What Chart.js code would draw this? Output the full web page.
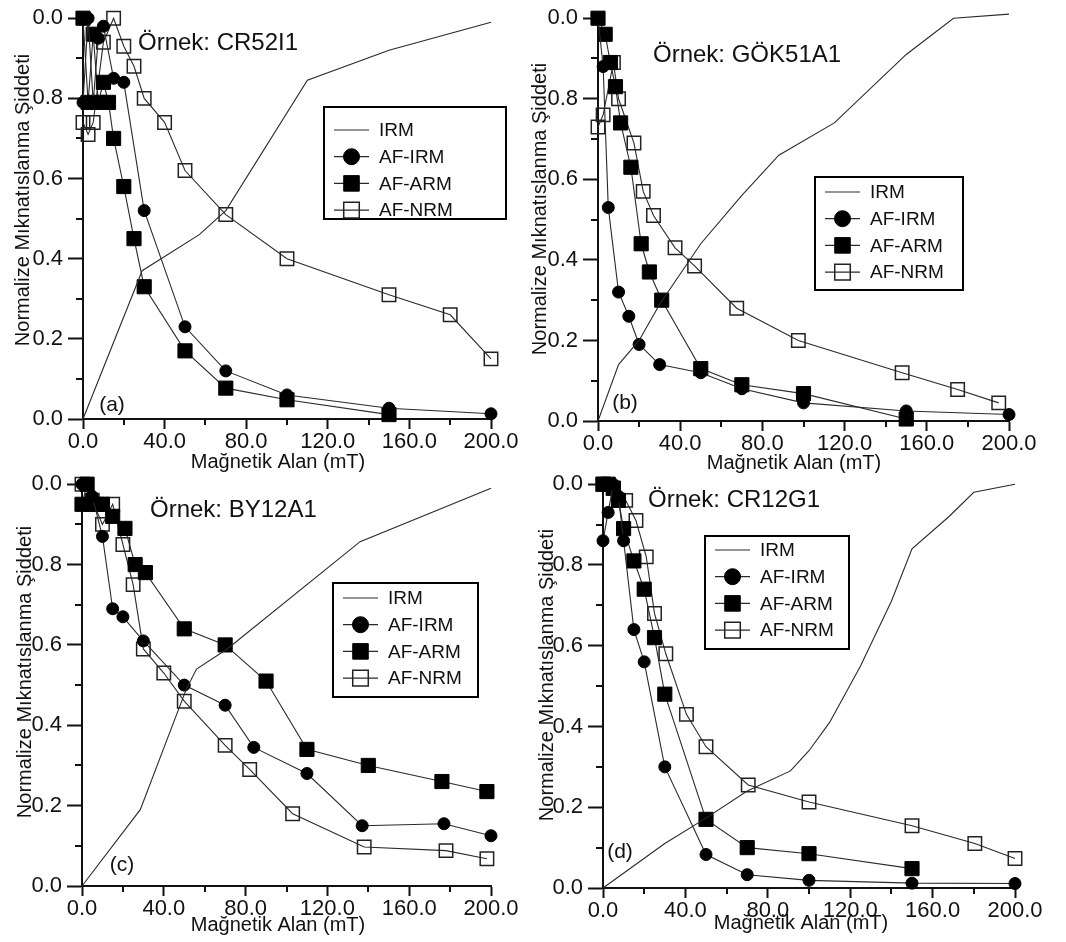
<!DOCTYPE html>
<html>
<head>
<meta charset="utf-8">
<script src="https://cdn.jsdelivr.net/npm/chart.js@4.4.1/dist/chart.umd.min.js"></script>
<style>
  html, body { margin: 0; padding: 0; background: #fff; }
  #page { position: relative; width: 1066px; height: 942px; overflow: hidden; }
  #page canvas { position: absolute; }
</style>
</head>
<body>
<div id="page">
  <canvas id="chartA" width="530" height="474" style="left:0px;top:0px"></canvas>
  <canvas id="chartB" width="536" height="474" style="left:530px;top:0px"></canvas>
  <canvas id="chartC" width="530" height="476" style="left:0px;top:466px"></canvas>
  <canvas id="chartD" width="536" height="476" style="left:530px;top:466px"></canvas>
</div>
<script>
// tick labels as printed on the figure
const xTickLabels = ['0.0', '', '40.0', '', '80.0', '', '120.0', '', '160.0', '', '200.0'];
const yTickLabels = ['0.0', '', '0.2', '', '0.4', '', '0.6', '', '0.8', '', '0.0'];
const seriesNames = ['IRM', 'AF-IRM', 'AF-ARM', 'AF-NRM'];

// (a) CR52I1
const fieldA_IRM = [0, 29, 57, 70, 110, 150, 200];
const valueA_IRM = [0, 0.37, 0.46, 0.52, 0.845, 0.92, 0.99];
const fieldA_AFIRM = [0, 2.5, 5, 7.5, 10, 15, 20, 30, 50, 70, 100, 150, 200];
const valueA_AFIRM = [0.79, 1.0, 0.79, 0.95, 0.98, 0.85, 0.84, 0.52, 0.23, 0.12, 0.06, 0.027, 0.013];
const fieldA_AFARM = [0, 2.5, 5, 7.5, 10, 12.5, 15, 20, 25, 30, 50, 70, 100, 150];
const valueA_AFARM = [1.0, 0.79, 0.96, 0.79, 0.84, 0.79, 0.70, 0.58, 0.45, 0.33, 0.17, 0.077, 0.048, 0.011];
const fieldA_AFNRM = [0, 2.5, 5, 10, 15, 20, 25, 30, 40, 50, 70, 100, 150, 180, 200];
const valueA_AFNRM = [0.74, 0.71, 0.74, 0.94, 1.0, 0.93, 0.88, 0.80, 0.74, 0.62, 0.51, 0.40, 0.31, 0.26, 0.15];

// (b) GÖK51A1
const fieldB_IRM = [0, 10, 20, 30, 50, 70, 88, 115, 150, 173, 200];
const valueB_IRM = [0, 0.14, 0.20, 0.29, 0.44, 0.56, 0.66, 0.74, 0.91, 1.0, 1.01];
const fieldB_AFIRM = [0, 2.5, 5, 10, 15, 20, 30, 50, 70, 100, 150, 200];
const valueB_AFIRM = [1.0, 0.88, 0.53, 0.32, 0.26, 0.19, 0.14, 0.12, 0.08, 0.045, 0.025, 0.016];
const fieldB_AFARM = [0, 3.5, 6, 8.5, 11, 16, 21, 25, 31, 50, 70, 100, 150];
const valueB_AFARM = [1.0, 0.96, 0.89, 0.83, 0.74, 0.63, 0.44, 0.37, 0.30, 0.13, 0.09, 0.068, 0.005];
const fieldB_AFNRM = [0, 2.5, 7.5, 10, 17.5, 22, 27, 37.5, 47, 67.5, 97.5, 148, 175, 195];
const valueB_AFNRM = [0.73, 0.76, 0.89, 0.80, 0.69, 0.57, 0.51, 0.43, 0.385, 0.28, 0.20, 0.12, 0.078, 0.045];

// (c) BY12A1
const fieldC_IRM = [0, 28.5, 51, 56, 71, 136, 200];
const valueC_IRM = [0, 0.19, 0.49, 0.54, 0.59, 0.857, 0.99];
const fieldC_AFIRM = [0, 2.5, 5, 10, 15, 20, 30, 50, 70, 84, 110, 137, 177, 200];
const valueC_AFIRM = [1.0, 1.0, 0.97, 0.87, 0.69, 0.67, 0.61, 0.50, 0.45, 0.345, 0.28, 0.15, 0.155, 0.125];
const fieldC_AFARM = [0, 2.5, 5, 7.5, 10, 15, 21, 26, 31, 50, 70, 90, 110, 140, 176, 198];
const valueC_AFARM = [0.95, 1.0, 0.95, 0.95, 0.95, 0.92, 0.89, 0.80, 0.78, 0.64, 0.60, 0.51, 0.34, 0.30, 0.26, 0.235];
const fieldC_AFNRM = [0, 5, 10, 15, 20, 25, 30, 40, 50, 70, 82, 103, 138, 178, 198];
const valueC_AFNRM = [1.0, 0.96, 0.90, 0.95, 0.85, 0.75, 0.59, 0.53, 0.46, 0.35, 0.29, 0.18, 0.097, 0.088, 0.068];

// (d) CR12G1
const fieldD_IRM = [0, 30, 49, 70, 91, 100, 110, 125, 140, 150, 168, 180, 200];
const valueD_IRM = [0, 0.11, 0.17, 0.24, 0.29, 0.34, 0.41, 0.55, 0.71, 0.84, 0.92, 0.98, 1.0];
const fieldD_AFIRM = [0, 2.5, 5, 7.5, 10, 15, 20, 30, 50, 70, 100, 150, 200];
const valueD_AFIRM = [0.86, 0.93, 1.0, 0.97, 0.86, 0.64, 0.56, 0.30, 0.083, 0.033, 0.019, 0.012, 0.011];
const fieldD_AFARM = [0, 2.5, 5, 7.5, 10, 15, 20, 25, 30, 50, 70, 100, 150];
const valueD_AFARM = [1.0, 1.0, 0.99, 0.96, 0.89, 0.81, 0.74, 0.62, 0.48, 0.17, 0.10, 0.085, 0.048];
const fieldD_AFNRM = [0, 5, 11, 16, 21, 25, 30.5, 40.5, 50, 70.5, 100, 150, 180.5, 200];
const valueD_AFNRM = [1.0, 0.99, 0.96, 0.91, 0.82, 0.68, 0.58, 0.43, 0.35, 0.255, 0.213, 0.154, 0.11, 0.073];

const FONT = '"Liberation Sans", Arial, sans-serif';
const INK = '#111';
const LINE = '#2a2a2a';

const panels = [
  { id: 'chartA', w: 530, h: 474, area: { l: 83, t: 16, r: 491, b: 419 },
    name: 'Örnek: CR52I1', nameX: 138, nameY: 43, letter: '(a)', letterX: 112, letterY: 405,
    yTitleX: 23, yTitleY: 200, xTitleX: 278, xTitleY: 462,
    legend: { x: 324, y: 107, w: 182, h: 112, row0: 130 },
    fields: [fieldA_IRM, fieldA_AFIRM, fieldA_AFARM, fieldA_AFNRM],
    values: [valueA_IRM, valueA_AFIRM, valueA_AFARM, valueA_AFNRM] },
  { id: 'chartB', w: 536, h: 474, area: { l: 68, t: 16, r: 479, b: 421 },
    name: 'Örnek: GÖK51A1', nameX: 123, nameY: 55, letter: '(b)', letterX: 95, letterY: 403,
    yTitleX: 10, yTitleY: 209, xTitleX: 264, xTitleY: 463,
    legend: { x: 285, y: 177, w: 148, h: 113, row0: 192 },
    fields: [fieldB_IRM, fieldB_AFIRM, fieldB_AFARM, fieldB_AFNRM],
    values: [valueB_IRM, valueB_AFIRM, valueB_AFARM, valueB_AFNRM] },
  { id: 'chartC', w: 530, h: 476, area: { l: 82, t: 16, r: 491, b: 420 },
    name: 'Örnek: BY12A1', nameX: 150, nameY: 44, letter: '(c)', letterX: 122, letterY: 399,
    yTitleX: 25, yTitleY: 206, xTitleX: 278, xTitleY: 459,
    legend: { x: 333, y: 117, w: 145, h: 114, row0: 132 },
    fields: [fieldC_IRM, fieldC_AFIRM, fieldC_AFARM, fieldC_AFNRM],
    values: [valueC_IRM, valueC_AFIRM, valueC_AFARM, valueC_AFNRM] },
  { id: 'chartD', w: 536, h: 476, area: { l: 73, t: 18, r: 485, b: 422 },
    name: 'Örnek: CR12G1', nameX: 118, nameY: 34, letter: '(d)', letterX: 90, letterY: 386,
    yTitleX: 17, yTitleY: 209, xTitleX: 271, xTitleY: 457,
    legend: { x: 175, y: 70, w: 144, h: 113, row0: 84 },
    fields: [fieldD_IRM, fieldD_AFIRM, fieldD_AFARM, fieldD_AFNRM],
    values: [valueD_IRM, valueD_AFIRM, valueD_AFARM, valueD_AFNRM] },
];

// marker look per series (IRM has none)
const markers = [
  { style: false, radius: 0, fill: 'transparent', border: LINE, bw: 0 },
  { style: 'circle', radius: 6, fill: '#000', border: '#000', bw: 1 },
  { style: 'rect', radius: 10, fill: '#000', border: '#000', bw: 1 },
  { style: 'rect', radius: 9.5, fill: 'rgba(0,0,0,0)', border: '#222', bw: 1.5 },
];

function toPoints(xs, ys) {
  let pts = [];
  for (let i = 0; i < xs.length; i++) {
    pts.push({ x: xs[i], y: ys[i] });
  }
  return pts;
}

function drawMarker(ctx, m, x, y, r) {
  if (!m.style) return;
  ctx.save();
  ctx.fillStyle = m.fill;
  ctx.strokeStyle = m.border;
  ctx.lineWidth = m.bw;
  ctx.beginPath();
  if (m.style === 'circle') {
    ctx.arc(x, y, r, 0, Math.PI * 2);
  } else {
    let s = Math.SQRT1_2 * r;
    ctx.rect(x - s, y - s, 2 * s, 2 * s);
  }
  ctx.fill();
  ctx.stroke();
  ctx.restore();
}

function makeDecor(p) {
  return {
    id: 'decor',
    afterDraw(chart) {
      const ctx = chart.ctx;
      const xs = chart.scales.x;
      const ys = chart.scales.y;
      const area = chart.chartArea;
      ctx.save();
      // minor ticks
      ctx.strokeStyle = INK;
      ctx.lineWidth = 2;
      ctx.beginPath();
      for (let i = 1; i < 10; i += 2) {
        let px = Math.round(xs.getPixelForValue(i * 20));
        ctx.moveTo(px, area.bottom);
        ctx.lineTo(px, area.bottom + 6);
        let py = Math.round(ys.getPixelForValue(i / 10));
        ctx.moveTo(area.left - 7, py);
        ctx.lineTo(area.left, py);
      }
      ctx.stroke();

      ctx.fillStyle = INK;
      // axis titles
      ctx.font = '20px ' + FONT;
      ctx.textAlign = 'center';
      ctx.textBaseline = 'middle';
      ctx.fillText('Mağnetik Alan (mT)', p.xTitleX, p.xTitleY);
      ctx.save();
      ctx.translate(p.yTitleX, p.yTitleY);
      ctx.rotate(-Math.PI / 2);
      ctx.font = '20px ' + FONT;
      ctx.fillText('Normalize Mıknatıslanma Şiddeti', 0, 0);
      ctx.restore();

      // sample name and panel letter
      ctx.textAlign = 'left';
      ctx.font = '24px ' + FONT;
      ctx.fillText(p.name, p.nameX, p.nameY);
      ctx.textAlign = 'center';
      ctx.font = '21px ' + FONT;
      ctx.fillText(p.letter, p.letterX, p.letterY);

      // legend box
      const lg = p.legend;
      ctx.strokeStyle = '#000';
      ctx.lineWidth = 2;
      ctx.strokeRect(lg.x, lg.y, lg.w, lg.h);
      ctx.font = '19px ' + FONT;
      ctx.textAlign = 'left';
      for (let i = 0; i < seriesNames.length; i++) {
        let ry = lg.row0 + i * 26.7;
        ctx.strokeStyle = LINE;
        ctx.lineWidth = 1.2;
        ctx.beginPath();
        ctx.moveTo(lg.x + 10, ry);
        ctx.lineTo(lg.x + 45, ry);
        ctx.stroke();
        let m = markers[i];
        drawMarker(ctx, m, lg.x + 27.5, ry, m.style === 'circle' ? 8 : 11);
        ctx.fillStyle = INK;
        ctx.fillText(seriesNames[i], lg.x + 55, ry + 1);
      }
      ctx.restore();
    },
  };
}

function buildChart(p) {
  let datasets = [];
  for (let i = 0; i < seriesNames.length; i++) {
    let m = markers[i];
    datasets.push({
      label: seriesNames[i],
      data: toPoints(p.fields[i], p.values[i]),
      borderColor: LINE,
      borderWidth: 1.1,
      tension: 0,
      fill: false,
      clip: false,
      pointStyle: m.style,
      pointRadius: m.radius,
      pointBackgroundColor: m.fill,
      pointBorderColor: m.border,
      pointBorderWidth: m.bw,
    });
  }
  let ctx = document.getElementById(p.id).getContext('2d');
  return new Chart(ctx, {
    type: 'line',
    data: { datasets: datasets },
    options: {
      responsive: false,
      animation: false,
      events: [],
      layout: { padding: { left: 0, top: p.area.t, right: p.w - p.area.r, bottom: 0 } },
      plugins: { legend: { display: false }, tooltip: { enabled: false } },
      scales: {
        x: {
          type: 'linear',
          min: 0,
          max: 200,
          ticks: {
            stepSize: 20,
            autoSkip: false,
            maxRotation: 0,
            padding: 0,
            color: INK,
            font: { family: FONT, size: 22 },
            callback: (v, i) => xTickLabels[i],
          },
          grid: {
            drawOnChartArea: false,
            tickLength: 10,
            tickWidth: 2,
            tickColor: (c) => (c.index % 2 === 0 ? INK : 'rgba(0,0,0,0)'),
          },
          border: { color: INK, width: 2 },
          afterFit: (s) => { s.height = p.h - p.area.b; },
        },
        y: {
          min: 0,
          max: 1,
          ticks: {
            stepSize: 0.1,
            autoSkip: false,
            padding: 5,
            color: INK,
            font: { family: FONT, size: 22 },
            callback: (v, i) => yTickLabels[i],
          },
          grid: {
            drawOnChartArea: false,
            tickLength: 15,
            tickWidth: 2,
            tickColor: (c) => (c.index % 2 === 0 ? INK : 'rgba(0,0,0,0)'),
          },
          border: { color: INK, width: 2 },
          afterFit: (s) => { s.width = p.area.l; },
        },
      },
    },
    plugins: [makeDecor(p)],
  });
}

let charts = panels.map(buildChart);
</script>
</body>
</html>
